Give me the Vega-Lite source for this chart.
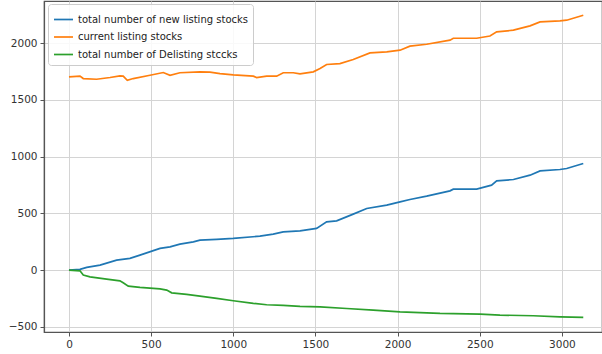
{
  "$schema": "https://vega.github.io/schema/vega-lite/v6.json",
  "width": 558,
  "height": 331,
  "autosize": {"type": "none"},
  "padding": {"left": 44, "top": 1, "right": 0, "bottom": 22},
  "background": "white",
  "config": {
    "font": "DejaVu Sans",
    "view": {"stroke": "#555555", "strokeWidth": 1.2},
    "axis": {
      "grid": true,
      "gridColor": "#d4d4d4",
      "gridWidth": 1,
      "domainColor": "#555555",
      "domainWidth": 1.2,
      "tickColor": "#555555",
      "tickSize": 4,
      "labelFont": "DejaVu Sans",
      "labelFontSize": 10.5,
      "labelColor": "#333333",
      "title": null
    }
  },
  "data": {
    "values": [
      {"step": 0, "count": 0, "series": "total number of new listing stocks"},
      {"step": 67, "count": 6, "series": "total number of new listing stocks"},
      {"step": 108, "count": 24, "series": "total number of new listing stocks"},
      {"step": 189, "count": 44, "series": "total number of new listing stocks"},
      {"step": 290, "count": 88, "series": "total number of new listing stocks"},
      {"step": 371, "count": 103, "series": "total number of new listing stocks"},
      {"step": 432, "count": 132, "series": "total number of new listing stocks"},
      {"step": 554, "count": 191, "series": "total number of new listing stocks"},
      {"step": 615, "count": 205, "series": "total number of new listing stocks"},
      {"step": 675, "count": 229, "series": "total number of new listing stocks"},
      {"step": 757, "count": 249, "series": "total number of new listing stocks"},
      {"step": 797, "count": 264, "series": "total number of new listing stocks"},
      {"step": 899, "count": 270, "series": "total number of new listing stocks"},
      {"step": 1000, "count": 279, "series": "total number of new listing stocks"},
      {"step": 1162, "count": 299, "series": "total number of new listing stocks"},
      {"step": 1243, "count": 317, "series": "total number of new listing stocks"},
      {"step": 1304, "count": 337, "series": "total number of new listing stocks"},
      {"step": 1406, "count": 346, "series": "total number of new listing stocks"},
      {"step": 1507, "count": 367, "series": "total number of new listing stocks"},
      {"step": 1568, "count": 425, "series": "total number of new listing stocks"},
      {"step": 1629, "count": 434, "series": "total number of new listing stocks"},
      {"step": 1730, "count": 493, "series": "total number of new listing stocks"},
      {"step": 1812, "count": 543, "series": "total number of new listing stocks"},
      {"step": 1934, "count": 572, "series": "total number of new listing stocks"},
      {"step": 2015, "count": 601, "series": "total number of new listing stocks"},
      {"step": 2075, "count": 622, "series": "total number of new listing stocks"},
      {"step": 2177, "count": 651, "series": "total number of new listing stocks"},
      {"step": 2319, "count": 698, "series": "total number of new listing stocks"},
      {"step": 2339, "count": 713, "series": "total number of new listing stocks"},
      {"step": 2481, "count": 713, "series": "total number of new listing stocks"},
      {"step": 2572, "count": 748, "series": "total number of new listing stocks"},
      {"step": 2603, "count": 786, "series": "total number of new listing stocks"},
      {"step": 2705, "count": 798, "series": "total number of new listing stocks"},
      {"step": 2806, "count": 836, "series": "total number of new listing stocks"},
      {"step": 2867, "count": 874, "series": "total number of new listing stocks"},
      {"step": 2988, "count": 886, "series": "total number of new listing stocks"},
      {"step": 3029, "count": 895, "series": "total number of new listing stocks"},
      {"step": 3130, "count": 939, "series": "total number of new listing stocks"},

      {"step": 0, "count": 1702, "series": "current listing stocks"},
      {"step": 67, "count": 1708, "series": "current listing stocks"},
      {"step": 87, "count": 1687, "series": "current listing stocks"},
      {"step": 168, "count": 1681, "series": "current listing stocks"},
      {"step": 250, "count": 1696, "series": "current listing stocks"},
      {"step": 310, "count": 1711, "series": "current listing stocks"},
      {"step": 330, "count": 1708, "series": "current listing stocks"},
      {"step": 355, "count": 1672, "series": "current listing stocks"},
      {"step": 391, "count": 1687, "series": "current listing stocks"},
      {"step": 493, "count": 1716, "series": "current listing stocks"},
      {"step": 574, "count": 1740, "series": "current listing stocks"},
      {"step": 615, "count": 1716, "series": "current listing stocks"},
      {"step": 675, "count": 1738, "series": "current listing stocks"},
      {"step": 797, "count": 1746, "series": "current listing stocks"},
      {"step": 858, "count": 1743, "series": "current listing stocks"},
      {"step": 919, "count": 1731, "series": "current listing stocks"},
      {"step": 1000, "count": 1719, "series": "current listing stocks"},
      {"step": 1122, "count": 1708, "series": "current listing stocks"},
      {"step": 1142, "count": 1696, "series": "current listing stocks"},
      {"step": 1203, "count": 1708, "series": "current listing stocks"},
      {"step": 1264, "count": 1708, "series": "current listing stocks"},
      {"step": 1304, "count": 1738, "series": "current listing stocks"},
      {"step": 1365, "count": 1738, "series": "current listing stocks"},
      {"step": 1406, "count": 1728, "series": "current listing stocks"},
      {"step": 1487, "count": 1746, "series": "current listing stocks"},
      {"step": 1528, "count": 1775, "series": "current listing stocks"},
      {"step": 1568, "count": 1811, "series": "current listing stocks"},
      {"step": 1649, "count": 1819, "series": "current listing stocks"},
      {"step": 1730, "count": 1855, "series": "current listing stocks"},
      {"step": 1832, "count": 1913, "series": "current listing stocks"},
      {"step": 1934, "count": 1922, "series": "current listing stocks"},
      {"step": 2015, "count": 1937, "series": "current listing stocks"},
      {"step": 2075, "count": 1972, "series": "current listing stocks"},
      {"step": 2177, "count": 1989, "series": "current listing stocks"},
      {"step": 2319, "count": 2025, "series": "current listing stocks"},
      {"step": 2339, "count": 2042, "series": "current listing stocks"},
      {"step": 2481, "count": 2042, "series": "current listing stocks"},
      {"step": 2562, "count": 2062, "series": "current listing stocks"},
      {"step": 2603, "count": 2098, "series": "current listing stocks"},
      {"step": 2705, "count": 2113, "series": "current listing stocks"},
      {"step": 2806, "count": 2151, "series": "current listing stocks"},
      {"step": 2867, "count": 2186, "series": "current listing stocks"},
      {"step": 2988, "count": 2195, "series": "current listing stocks"},
      {"step": 3029, "count": 2201, "series": "current listing stocks"},
      {"step": 3130, "count": 2245, "series": "current listing stocks"},

      {"step": 0, "count": 0, "series": "total number of Delisting stccks"},
      {"step": 67, "count": -6, "series": "total number of Delisting stccks"},
      {"step": 87, "count": -44, "series": "total number of Delisting stccks"},
      {"step": 128, "count": -59, "series": "total number of Delisting stccks"},
      {"step": 229, "count": -79, "series": "total number of Delisting stccks"},
      {"step": 310, "count": -94, "series": "total number of Delisting stccks"},
      {"step": 330, "count": -112, "series": "total number of Delisting stccks"},
      {"step": 361, "count": -141, "series": "total number of Delisting stccks"},
      {"step": 432, "count": -152, "series": "total number of Delisting stccks"},
      {"step": 554, "count": -165, "series": "total number of Delisting stccks"},
      {"step": 595, "count": -176, "series": "total number of Delisting stccks"},
      {"step": 625, "count": -200, "series": "total number of Delisting stccks"},
      {"step": 716, "count": -214, "series": "total number of Delisting stccks"},
      {"step": 797, "count": -229, "series": "total number of Delisting stccks"},
      {"step": 899, "count": -249, "series": "total number of Delisting stccks"},
      {"step": 1000, "count": -270, "series": "total number of Delisting stccks"},
      {"step": 1122, "count": -293, "series": "total number of Delisting stccks"},
      {"step": 1203, "count": -305, "series": "total number of Delisting stccks"},
      {"step": 1304, "count": -311, "series": "total number of Delisting stccks"},
      {"step": 1406, "count": -319, "series": "total number of Delisting stccks"},
      {"step": 1528, "count": -324, "series": "total number of Delisting stccks"},
      {"step": 1690, "count": -338, "series": "total number of Delisting stccks"},
      {"step": 1852, "count": -352, "series": "total number of Delisting stccks"},
      {"step": 2015, "count": -367, "series": "total number of Delisting stccks"},
      {"step": 2258, "count": -381, "series": "total number of Delisting stccks"},
      {"step": 2502, "count": -387, "series": "total number of Delisting stccks"},
      {"step": 2623, "count": -396, "series": "total number of Delisting stccks"},
      {"step": 2826, "count": -402, "series": "total number of Delisting stccks"},
      {"step": 2988, "count": -411, "series": "total number of Delisting stccks"},
      {"step": 3130, "count": -416, "series": "total number of Delisting stccks"}
    ]
  },
  "mark": {"type": "line", "strokeWidth": 1.7},
  "encoding": {
    "x": {
      "field": "step",
      "type": "quantitative",
      "scale": {"domain": [-152, 3244], "nice": false, "zero": false},
      "axis": {"values": [0, 500, 1000, 1500, 2000, 2500, 3000], "format": "d", "labelPadding": 3}
    },
    "y": {
      "field": "count",
      "type": "quantitative",
      "scale": {"domain": [-545, 2370], "nice": false, "zero": false},
      "axis": {"values": [-500, 0, 500, 1000, 1500, 2000], "format": "d", "labelPadding": 3}
    },
    "color": {
      "field": "series",
      "type": "nominal",
      "scale": {
        "domain": ["total number of new listing stocks", "current listing stocks", "total number of Delisting stccks"],
        "range": ["#1f77b4", "#ff7f0e", "#2ca02c"]
      },
      "legend": {
        "title": null,
        "orient": "none",
        "legendX": 4,
        "legendY": 3,
        "symbolType": "stroke",
        "symbolSize": 360,
        "symbolStrokeWidth": 1.7,
        "labelFont": "DejaVu Sans",
        "labelFontSize": 10,
        "labelColor": "#222222",
        "rowPadding": 1.5,
        "padding": 5,
        "fillColor": "rgba(255,255,255,0.85)",
        "strokeColor": "#cccccc",
        "cornerRadius": 3,
        "labelLimit": 300
      }
    }
  }
}
